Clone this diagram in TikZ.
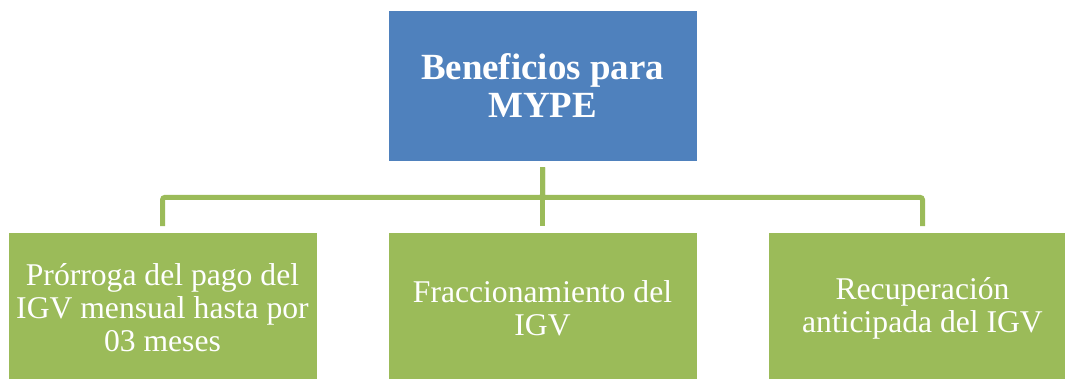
\documentclass[tikz,border=0pt]{standalone}
\usepackage{fontspec}
\setmainfont{Liberation Serif}
\usetikzlibrary{calc}

\definecolor{mypeblue}{HTML}{4F81BD}
\definecolor{mypegreen}{HTML}{9BBB59}

\begin{document}
\begin{tikzpicture}[
                caja/.style={fill=#1,draw=white,line width=0.4pt,minimum width=6.18cm,minimum height=3.02cm,
                    align=center,text=white,inner sep=0pt},
                titulo/.style={caja=mypeblue,font=\fontsize{21}{21.6}\selectfont\bfseries},
                hoja/.style={caja=mypegreen,font=\fontsize{18}{18.8}\selectfont},
                enlace/.style={draw=mypegreen,line width=0.1cm,rounded corners=0.05cm,
                    shorten <=0.12cm,shorten >=0.12cm}
            ]
                \useasboundingbox (0,0) rectangle (21.3,-7.56);

                \node [titulo] (beneficios) at (10.85,-1.71) {Beneficios para\\MYPE};

                \node [hoja] (prorroga) at (3.25,-6.16) {Prórroga del pago del\\IGV mensual hasta por\\03 meses};
                \node [hoja] (fraccion) at (10.85,-6.16) {Fraccionamiento del\\IGV};
                \node [hoja] (recuperacion) at (18.45,-6.16) {Recuperación\\anticipada del IGV};

                \draw [enlace] (beneficios.south) -- (fraccion.north);
                \draw [enlace] (beneficios.south) -- ++(0,-0.72) -| (prorroga.north);
                \draw [enlace] (beneficios.south) -- ++(0,-0.72) -| (recuperacion.north);
            \end{tikzpicture}
\end{document}
